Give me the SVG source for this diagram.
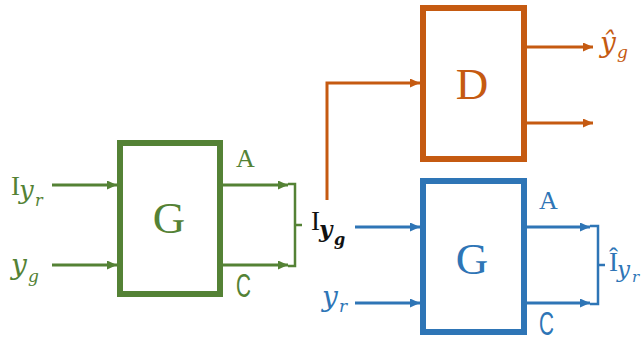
<svg xmlns="http://www.w3.org/2000/svg" width="644" height="342" viewBox="0 0 644 342">
<style>
.box{fill:#fff;stroke-width:6}
.ln{fill:none;stroke-width:3}
.br{fill:none;stroke-width:2.5}
.g{stroke:#548235}.gt{fill:#548235}
.o{stroke:#C55A11}.ot{fill:#C55A11}
.b{stroke:#2E75B6}.bt{fill:#2E75B6}
.k{fill:#111}
text{font-family:"Liberation Serif","DejaVu Serif",serif}
.it{font-family:"DejaVu Serif","Liberation Serif",serif;font-style:italic}
.big{font-size:45px;text-anchor:middle}
.port{font-size:26px}
.portc{font-family:"Liberation Sans",Arial,sans-serif;font-size:33px}
</style>
<defs>
<marker id="ag" markerUnits="userSpaceOnUse" markerWidth="11" markerHeight="9" refX="10" refY="4.5" orient="auto"><path d="M0,0 L10,4.5 L0,9 z" fill="#548235"/></marker>
<marker id="ao" markerUnits="userSpaceOnUse" markerWidth="11" markerHeight="9" refX="10" refY="4.5" orient="auto"><path d="M0,0 L10,4.5 L0,9 z" fill="#C55A11"/></marker>
<marker id="ab" markerUnits="userSpaceOnUse" markerWidth="11" markerHeight="9" refX="10" refY="4.5" orient="auto"><path d="M0,0 L10,4.5 L0,9 z" fill="#2E75B6"/></marker>
</defs>

<g id="connectors">
<g class="g">
<path class="ln" d="M52 185 H117" marker-end="url(#ag)"/>
<path class="ln" d="M52 265 H117" marker-end="url(#ag)"/>
<path class="ln" d="M223 185 H288" marker-end="url(#ag)"/>
<path class="ln" d="M223 265 H288" marker-end="url(#ag)"/>
<path class="br" d="M288 184 H295 V266 H288 M295 225 H302"/>
</g>
<g class="o">
<path class="ln" d="M327 200 V83 H420" marker-end="url(#ao)"/>
<path class="ln" d="M527 47 H593" marker-end="url(#ao)"/>
<path class="ln" d="M527 123 H593" marker-end="url(#ao)"/>
</g>
<g class="b">
<path class="ln" d="M355 227 H420" marker-end="url(#ab)"/>
<path class="ln" d="M355 303 H420" marker-end="url(#ab)"/>
<path class="ln" d="M527 227 H590" marker-end="url(#ab)"/>
<path class="ln" d="M527 303 H590" marker-end="url(#ab)"/>
<path class="br" d="M590 226 H598 V304 H590 M598 265 H605"/>
</g>
</g>

<g id="G1">
<rect class="box g" x="120" y="143" width="100" height="151"/>
<text class="big gt" x="169" y="233">G</text>
<text class="port gt" x="236" y="167">A</text>
<text class="portc gt" x="236" y="297" textLength="15" lengthAdjust="spacingAndGlyphs">C</text>
</g>

<g id="D">
<rect class="box o" x="423" y="8" width="101" height="151"/>
<text class="big ot" x="472" y="99">D</text>
</g>

<g id="G2">
<rect class="box b" x="423" y="181" width="101" height="151"/>
<text class="big bt" x="472" y="274">G</text>
<text class="port bt" x="539" y="209">A</text>
<text class="portc bt" x="539" y="335" textLength="15" lengthAdjust="spacingAndGlyphs">C</text>
</g>

<g id="labels">
<text class="gt" x="11" y="195" font-size="27">I</text>
<text class="gt it" x="19" y="199" font-size="26">y</text>
<text class="gt it" x="35" y="206" font-size="16">r</text>

<text class="gt it" x="11" y="274" font-size="28">y</text>
<text class="gt it" x="28" y="282" font-size="17">g</text>

<text class="k" x="311" y="230" font-size="27">I</text>
<text class="k it" x="319" y="237" font-size="23" font-weight="bold">y</text>
<text class="k it" x="334" y="245" font-size="16" font-weight="bold">g</text>

<text class="bt it" x="322" y="306" font-size="28">y</text>
<text class="bt it" x="339" y="312" font-size="17">r</text>

<text class="ot it" x="600" y="52" font-size="28">ŷ</text>
<text class="ot it" x="617" y="58" font-size="17">g</text>

<text class="bt" x="609" y="271" font-size="27">Î</text>
<text class="bt it" x="617" y="277" font-size="23">y</text>
<text class="bt it" x="632" y="282" font-size="15">r</text>
</g>
</svg>
